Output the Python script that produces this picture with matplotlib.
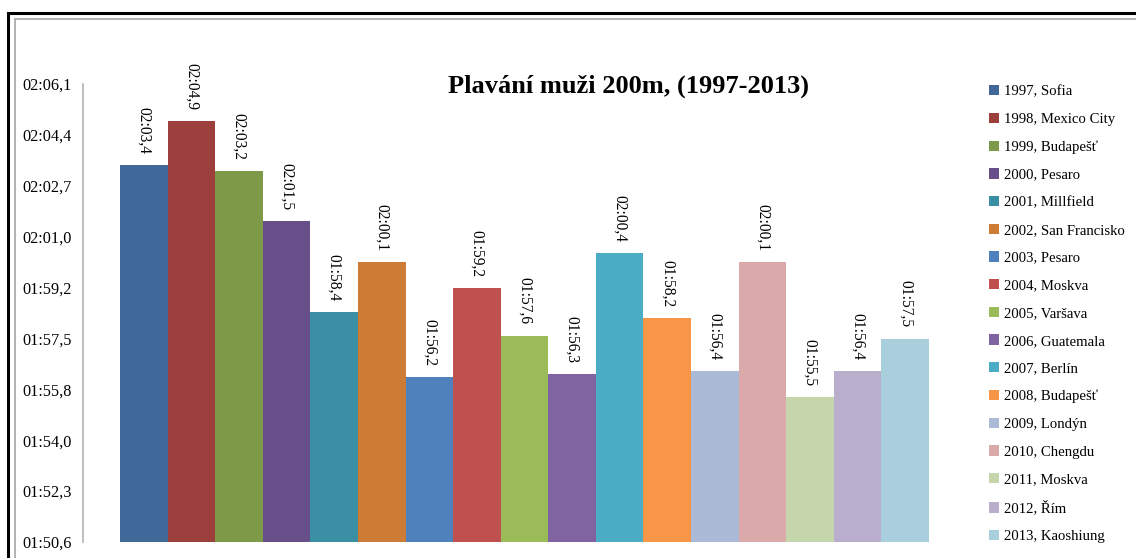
import matplotlib
matplotlib.use("Agg")
import matplotlib.pyplot as plt
from matplotlib.patches import Rectangle, Patch
import numpy as np

plt.rcParams['font.family'] = ['Liberation Serif', 'DejaVu Serif']

title = "Plavání muži 200m, (1997-2013)"
series = ["1997, Sofia", "1998, Mexico City", "1999, Budapešť", "2000, Pesaro",
          "2001, Millfield", "2002, San Francisko", "2003, Pesaro", "2004, Moskva",
          "2005, Varšava", "2006, Guatemala", "2007, Berlín", "2008, Budapešť",
          "2009, Londýn", "2010, Chengdu", "2011, Moskva", "2012, Řím",
          "2013, Kaoshiung"]
# times in seconds
values = [123.4, 124.9, 123.2, 121.5, 118.4, 120.1, 116.2, 119.2, 117.6,
          116.3, 120.4, 118.2, 116.4, 120.1, 115.5, 116.4, 117.5]
value_labels = ["02:03,4", "02:04,9", "02:03,2", "02:01,5", "01:58,4", "02:00,1",
                "01:56,2", "01:59,2", "01:57,6", "01:56,3", "02:00,4", "01:58,2",
                "01:56,4", "02:00,1", "01:55,5", "01:56,4", "01:57,5"]
colors = ["#40699A", "#9D3F3C", "#7E9A48", "#67508A", "#3A8FA4", "#CE7B36",
          "#4F81BD", "#C0504D", "#9BBB59", "#8064A2", "#4BACC6", "#F79646",
          "#AABAD7", "#D9AAA9", "#C6D6AC", "#B9AECB", "#A9CEDC"]
ytick_values = [110.592, 112.32, 114.048, 115.776, 117.504, 119.232,
                120.96, 122.688, 124.416, 126.144]
ytick_labels = ["01:50,6", "01:52,3", "01:54,0", "01:55,8", "01:57,5",
                "01:59,2", "02:01,0", "02:02,7", "02:04,4", "02:06,1"]

W, H = 1136, 558
fig = plt.figure(figsize=(W / 100, H / 100), dpi=100)

# outer frames
fig.patches.append(Rectangle((8 / W, -0.1), 1.2, 1 - 12.5 / H + 0.1,
                             transform=fig.transFigure, fill=False,
                             edgecolor="black", linewidth=2.2))
fig.patches.append(Rectangle((15.5 / W, -0.1), 1.2, 1 - 19.5 / H + 0.1,
                             transform=fig.transFigure, fill=False,
                             edgecolor="#A6A6A6", linewidth=1.2))

left, right = 83 / W, 966 / W
bottom, top = 1 - 542 / H, 1 - 84 / H
ax = fig.add_axes([left, bottom, right - left, top - bottom])

x = np.arange(len(values))
ax.bar(x, np.array(values) - ytick_values[0], bottom=ytick_values[0],
       width=1.0, color=colors, linewidth=0)

gap = 0.776
ax.set_xlim(-0.5 - gap, len(values) - 0.5 + gap)
ax.set_ylim(ytick_values[0], ytick_values[-1])
ax.set_yticks(ytick_values)
ax.set_yticklabels(ytick_labels, fontsize=11.7)
ax.tick_params(axis='y', length=0, pad=8.3)
ax.set_xticks([])
for s in ["top", "right", "bottom"]:
    ax.spines[s].set_visible(False)
ax.spines["left"].set_color("#B3B3B3")
ax.spines["left"].set_linewidth(1.2)

for xi, v, lab in zip(x, values, value_labels):
    ax.annotate(lab, (xi, v), xytext=(0, 8), textcoords="offset points",
                rotation=-90, ha="center", va="bottom", fontsize=11.2)

fig.text(629 / W, 1 - 86 / H, title, ha="center", va="center",
         fontsize=19, fontweight="bold")

handles = [Patch(facecolor=c, edgecolor="none") for c in colors]
fig.legend(handles, series, loc="upper left",
           bbox_to_anchor=(989 / W, 1 - 85 / H), frameon=False,
           fontsize=10.6, handlelength=0.69, handleheight=0.69,
           handletextpad=0.3, labelspacing=0.98, borderpad=0,
           borderaxespad=0)

fig.savefig("out.png", dpi=100)
